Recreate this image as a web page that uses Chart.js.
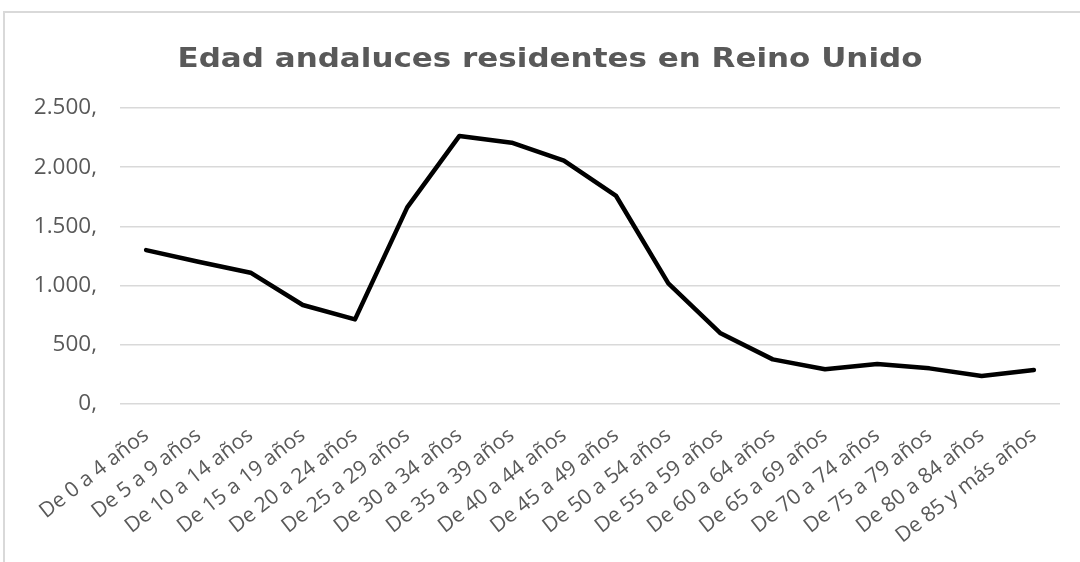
<!DOCTYPE html>
<html>
<head>
<meta charset="utf-8">
<script src="https://cdn.jsdelivr.net/npm/chart.js@4.4.1/dist/chart.umd.min.js"></script>
<style>
  html, body { margin: 0; padding: 0; background: #ffffff; }
  #wrap { position: relative; width: 1080px; height: 562px; overflow: hidden; }
  #frame { position: absolute; left: 3px; top: 11px; width: 1200px; height: 700px;
           border-left: 2px solid #d9d9d9; border-top: 2px solid #d9d9d9; pointer-events: none; }
  canvas { position: absolute; left: 0; top: 0; }
</style>
</head>
<body>
<div id="wrap">
  <canvas id="c" width="1080" height="562"></canvas>
  <div id="frame"></div>
</div>
<script>
const titleText = 'Edad andaluces residentes en Reino Unido';
const categories = ['De 0 a 4 años','De 5 a 9 años','De 10 a 14 años','De 15 a 19 años','De 20 a 24 años',
  'De 25 a 29 años','De 30 a 34 años','De 35 a 39 años','De 40 a 44 años','De 45 a 49 años',
  'De 50 a 54 años','De 55 a 59 años','De 60 a 64 años','De 65 a 69 años','De 70 a 74 años',
  'De 75 a 79 años','De 80 a 84 años','De 85 y más años'];
const values = [1300, 1202, 1109, 836, 715, 1661, 2264, 2207, 2055, 1757, 1019, 597, 377, 293, 338, 301, 236, 287];
const yTicks = [0, 500, 1000, 1500, 2000, 2500];
const yTickLabels = ['0,', '500,', '1.000,', '1.500,', '2.000,', '2.500,'];

// Title drawn as canvas text, widened horizontally like the reference
const stretchedTitle = {
  id: 'stretchedTitle',
  afterDraw(chart) {
    const ctx = chart.ctx;
    ctx.save();
    ctx.font = 'bold 27px "DejaVu Sans", sans-serif';
    ctx.fillStyle = '#595959';
    ctx.textAlign = 'center';
    ctx.textBaseline = 'alphabetic';
    const w = ctx.measureText(titleText).width;
    ctx.translate(550, 67);
    ctx.scale(745 / w, 1);
    ctx.fillText(titleText, 0, 0);
    ctx.restore();
  }
};

new Chart(document.getElementById('c'), {
  type: 'line',
  data: {
    labels: categories,
    datasets: [{
      data: values,
      borderColor: '#000000',
      borderWidth: 4.5,
      pointRadius: 0,
      tension: 0,
      borderJoinStyle: 'round',
      borderCapStyle: 'round',
      fill: false
    }]
  },
  plugins: [stretchedTitle],
  options: {
    responsive: false,
    animation: false,
    layout: { padding: { left: 0, right: 20, top: 108, bottom: 0 } },
    plugins: {
      legend: { display: false },
      tooltip: { enabled: false },
      title: { display: false }
    },
    scales: {
      y: {
        min: 0, max: 2500,
        afterFit: (s) => { s.width = 120; },
        afterBuildTicks: (s) => { s.ticks = yTicks.map(v => ({ value: v })); },
        border: { display: false },
        grid: { color: '#d9d9d9', lineWidth: 1.6, drawTicks: false },
        ticks: {
          padding: 23,
          color: '#595959',
          font: { family: 'Open Sans, sans-serif', size: 22.5 },
          callback: (v) => yTickLabels[yTicks.indexOf(v)]
        }
      },
      x: {
        offset: true,
        afterFit: (s) => { s.height = 158; },
        border: { display: false },
        grid: { display: false, drawTicks: false, offset: true },
        ticks: {
          autoSkip: false,
          minRotation: 38, maxRotation: 38,
          padding: 19,
          color: '#595959',
          font: { family: 'Open Sans, sans-serif', size: 21 }
        }
      }
    }
  }
});
</script>
</body>
</html>
